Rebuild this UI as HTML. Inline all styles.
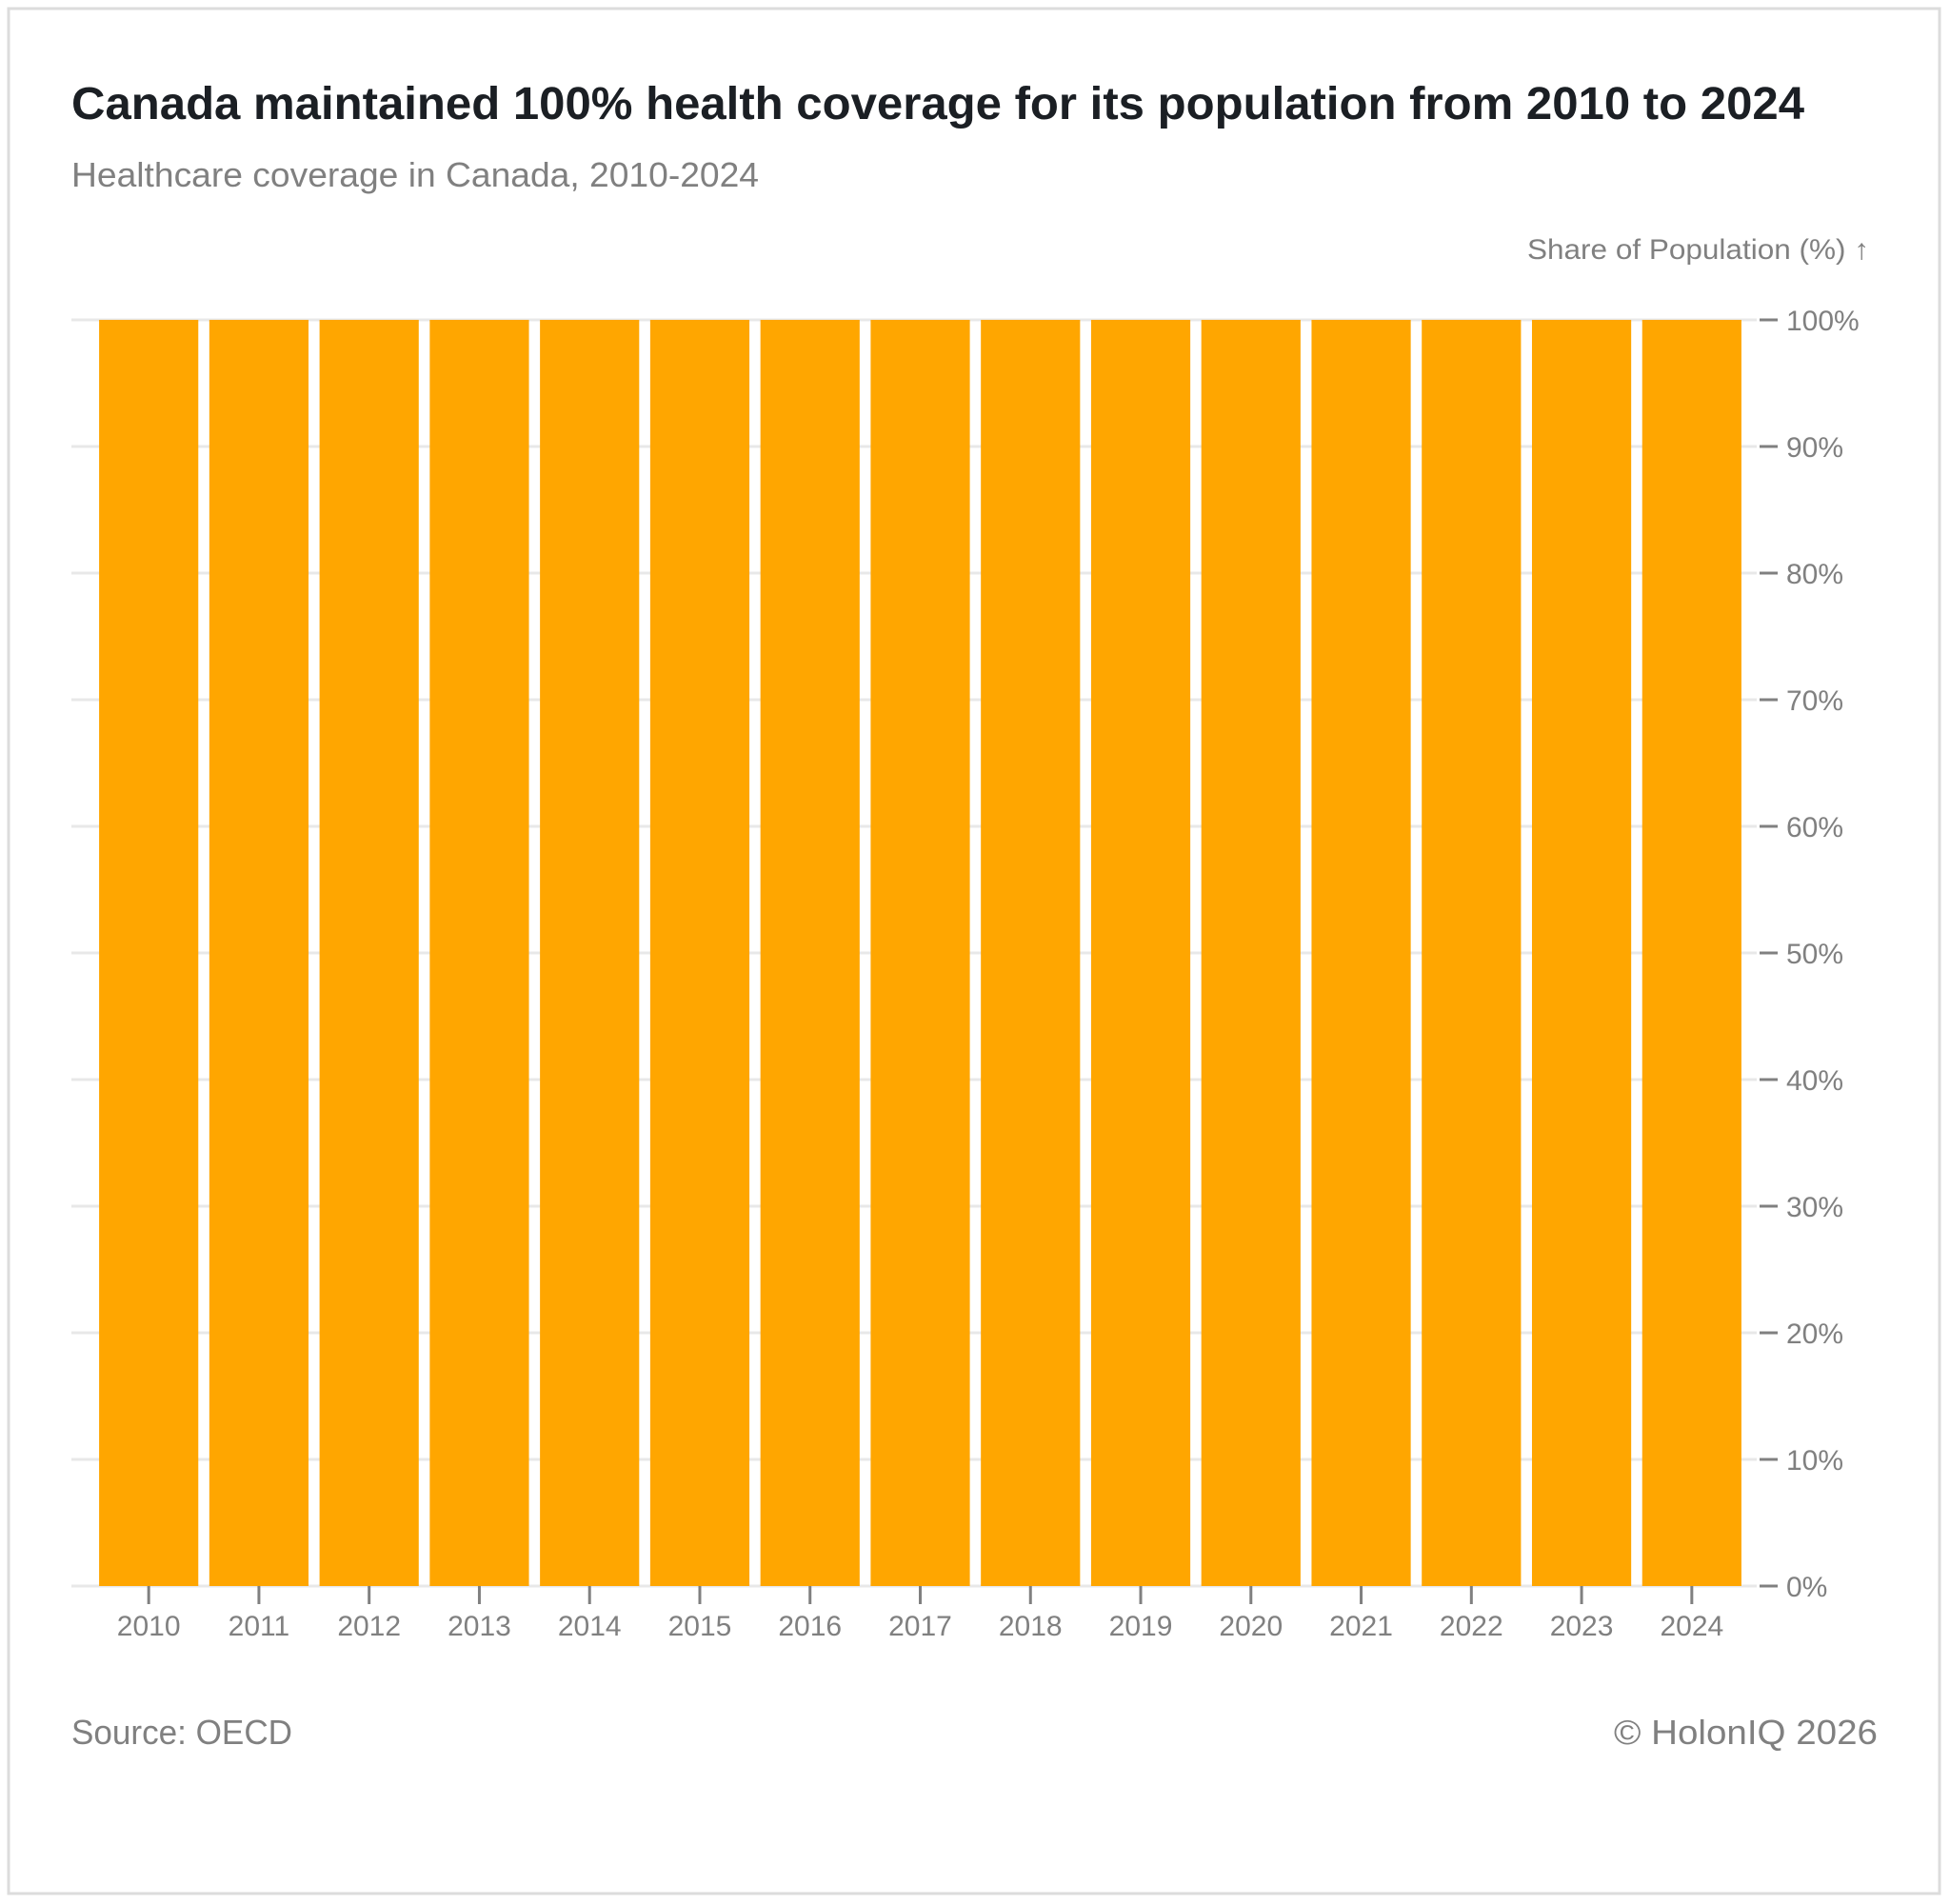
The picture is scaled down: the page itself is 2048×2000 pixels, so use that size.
<!DOCTYPE html>
<html><head><meta charset="utf-8"><style>
html,body{margin:0;padding:0;background:#fff;}
svg{display:block;font-family:"Liberation Sans",sans-serif;}
</style></head><body>
<svg id="chart" width="2048" height="2000" viewBox="0 0 2048 2000">
<rect x="9" y="9" width="2028" height="1980" fill="#fff" stroke="#dcdcdc" stroke-width="3"/>
<text x="75" y="125" font-size="48" font-weight="bold" fill="#1b1f24" textLength="1820" lengthAdjust="spacingAndGlyphs">Canada maintained 100% health coverage for its population from 2010 to 2024</text>
<text x="75" y="196" font-size="36" fill="#808080" textLength="722" lengthAdjust="spacingAndGlyphs">Healthcare coverage in Canada, 2010-2024</text>
<text x="1963" y="272" font-size="30" fill="#808080" text-anchor="end" textLength="359" lengthAdjust="spacingAndGlyphs">Share of Population (%) ↑</text>
<g id="grid"></g>
<g id="bars"></g>
<g id="axes"></g>
<text x="75" y="1832" font-size="36" fill="#808080" textLength="232" lengthAdjust="spacingAndGlyphs">Source: OECD</text>
<text x="1972" y="1832" font-size="36" fill="#808080" text-anchor="end" textLength="277" lengthAdjust="spacingAndGlyphs">© HolonIQ 2026</text>
</svg>
<script>
const categories = ["2010","2011","2012","2013","2014","2015","2016","2017","2018","2019","2020","2021","2022","2023","2024"];
const coverage = [100,100,100,100,100,100,100,100,100,100,100,100,100,100,100];
const yTicks = [0,10,20,30,40,50,60,70,80,90,100];
const yTickLabels = ["0%","10%","20%","30%","40%","50%","60%","70%","80%","90%","100%"];

const NS = "http://www.w3.org/2000/svg";
const plotTop = 336, plotBottom = 1666, gridLeft = 75, gridRight = 1845;
const bandStart = 92.5, bandEnd = 1840.5;
const step = (bandEnd - bandStart) / (categories.length + 0.1);
const barW = step * 0.9;
function y(v){ return plotBottom - (v / 100) * (plotBottom - plotTop); }
function xBand(i){ return bandStart + step * 0.1 + i * step; }
function mk(tag, attrs, parent){ const e = document.createElementNS(NS, tag); for (const k in attrs) e.setAttribute(k, attrs[k]); parent.appendChild(e); return e; }

const grid = document.getElementById('grid');
const bars = document.getElementById('bars');
const axes = document.getElementById('axes');

yTicks.forEach((t, i) => {
  const gy = y(t);
  const g = mk('line', {x1: gridLeft, x2: gridRight, y1: gy, y2: gy, stroke: '#e8e8e8', 'stroke-width': 3}, grid);
  
  
  const tk = mk('line', {x1: 1848, x2: 1867, y1: gy, y2: gy, stroke: '#808080', 'stroke-width': 3}, axes);
  
  
  const lb = mk('text', {x: 1876, y: gy + 11, 'font-size': 30, fill: '#808080'}, axes);
  lb.textContent = yTickLabels[i];
  
  
});

categories.forEach((c, i) => {
  const x0 = xBand(i);
  const r = mk('rect', {x: x0, y: y(coverage[i]), width: barW, height: y(0) - y(coverage[i]), fill: '#ffa600'}, bars);
  
  
  const cx = x0 + barW / 2;
  const tk = mk('line', {x1: cx, x2: cx, y1: 1666, y2: 1685, stroke: '#808080', 'stroke-width': 3}, axes);
  
  
  const lb = mk('text', {x: cx, y: 1718, 'font-size': 30, fill: '#808080', 'text-anchor': 'middle'}, axes);
  lb.textContent = c;
  
  
});
</script>
</body></html>
